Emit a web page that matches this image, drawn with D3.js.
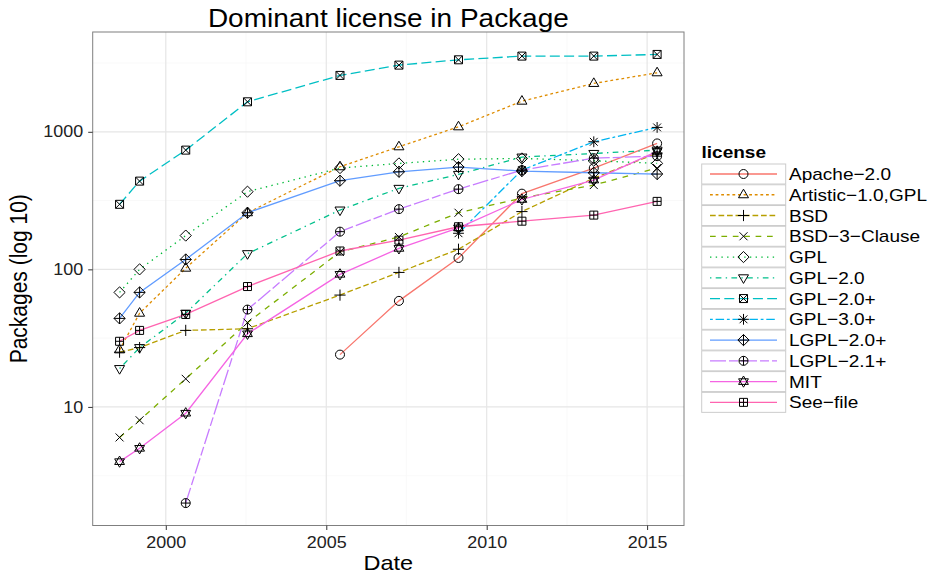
<!DOCTYPE html>
<html>
<head>
<meta charset="utf-8">
<script src="https://cdn.jsdelivr.net/npm/d3@7"></script>
<style>
body{margin:0;background:#fff}
svg{display:block}
text{font-family:"Liberation Sans",Arial,Helvetica,sans-serif}
</style>
</head>
<body>
<svg id="chart" width="935" height="576"></svg>
<script>
// ---------------- data ----------------
const releaseDates = ["1998-07-24","1999-03-09","2000-08-15","2002-07-19","2005-06-06",
                      "2007-04-08","2009-02-14","2011-02-06","2013-05-04","2015-04-25"];
const licenses = ["Apache-2.0","Artistic-1.0,GPL","BSD","BSD-3-Clause","GPL","GPL-2.0",
                  "GPL-2.0+","GPL-3.0+","LGPL-2.0+","LGPL-2.1+","MIT","See-file"];
const apache      = [null,null,null,null,24,59,121,355,545,823];
const artistic    = [26,48,102,258,557,778,1087,1670,2247,2685];
const bsd         = [25,27,36,37,65,95,140,263,460,700];
const bsd3        = [6,8,16,41,134,172,258,330,410,545];
const gpl         = [68,100,176,367,545,589,632,640,616,589];
const gpl20       = [19,27,48,130,270,388,490,655,696,736];
const gpl20plus   = [297,438,736,1652,2570,3053,3337,3550,3550,3651];
const gpl30plus   = [null,null,null,null,null,null,183,527,846,1076];
const lgpl20plus  = [44,68,118,258,441,512,554,518,504,493];
const lgpl21plus  = [null,null,2,51,188,274,383,527,643,665];
const mit         = [4,5,9,34,92,142,200,322,446,720];
const seeFile     = [30,36,47,75,136,163,204,224,248,312];
const seriesValues = [apache,artistic,bsd,bsd3,gpl,gpl20,gpl20plus,gpl30plus,lgpl20plus,lgpl21plus,mit,seeFile];
const yTickValues = [10,100,1000];
const xTickYears  = [2000,2005,2010,2015];
const titleText = "Dominant license in Package";
const xTitle = "Date";
const yTitle = "Packages (log 10)";
const legendTitle = "license";

// ---------------- styles ----------------
const colors = ["#F8766D","#DE8C00","#B79F00","#7CAE00","#00BA38","#00C08B",
                "#00BFC4","#00B4F0","#619CFF","#C77CFF","#F564E3","#FF64B0"];
const dashes = [null,"2.8,2.8","5.7,2.8","5.7,5.7","1.4,4.3","1.4,4.3,5.7,4.3",
                "10,4.3","2.8,2.8,8.5,2.8",null,"16,3,9,3",null,null];
const shapes = ["circle","triUp","plus","cross","diamond","triDown","squareX",
                "asterisk","diamondPlus","circlePlus","david","squarePlus"];

const SX = 1.12; // horizontal text stretch
const svg = d3.select("#chart");
const panel = {left:92.7,right:684,top:32,bottom:525.5};

const parse = d3.timeParse("%Y-%m-%d");
const dates = releaseDates.map(parse);

// scales with 5% expansion (as in ggplot)
const allVals = seriesValues.flat().filter(v=>v!=null);
const lmin = Math.log10(d3.min(allVals)), lmax = Math.log10(d3.max(allVals));
const lpad = (lmax-lmin)*0.05;
const y = d3.scaleLog().domain([10**(lmin-lpad),10**(lmax+lpad)]).range([panel.bottom,panel.top]);
const tmin = +d3.min(dates), tmax = +d3.max(dates), tpad = (tmax-tmin)*0.05;
const x = d3.scaleTime().domain([new Date(tmin-tpad),new Date(tmax+tpad)]).range([panel.left,panel.right]);

// ---------------- grid ----------------
const grid = svg.append("g");
const minorY = [0.5,1.5,2.5,3.5].map(e=>10**e).filter(v=>v>y.domain()[0]&&v<y.domain()[1]);
const minorX = [2002.5,2007.5,2012.5].map(yr=>new Date(Math.floor(yr),6,2));
grid.selectAll(".my").data(minorY).join("line")
  .attr("x1",panel.left).attr("x2",panel.right).attr("y1",d=>y(d)).attr("y2",d=>y(d))
  .attr("stroke","#f7f7f7").attr("stroke-width",0.8);
grid.selectAll(".mx").data(minorX).join("line")
  .attr("y1",panel.top).attr("y2",panel.bottom).attr("x1",d=>x(d)).attr("x2",d=>x(d))
  .attr("stroke","#f7f7f7").attr("stroke-width",0.8);
grid.selectAll(".gy").data(yTickValues).join("line")
  .attr("x1",panel.left).attr("x2",panel.right).attr("y1",d=>y(d)).attr("y2",d=>y(d))
  .attr("stroke","#e6e6e6").attr("stroke-width",1.2);
grid.selectAll(".gx").data(xTickYears).join("line")
  .attr("y1",panel.top).attr("y2",panel.bottom)
  .attr("x1",d=>x(new Date(d,0,1))).attr("x2",d=>x(new Date(d,0,1)))
  .attr("stroke","#e6e6e6").attr("stroke-width",1.2);

// ---------------- lines ----------------
const line = d3.line().defined(d=>d.v!=null).x(d=>x(d.t)).y(d=>y(d.v));
const series = licenses.map((name,i)=>({name,i,pts:dates.map((t,j)=>({t,v:seriesValues[i][j]}))}));
svg.append("g").selectAll("path").data(series).join("path")
  .attr("d",s=>line(s.pts)).attr("fill","none")
  .attr("stroke",s=>colors[s.i]).attr("stroke-width",1.3)
  .attr("stroke-dasharray",s=>dashes[s.i]);

// ---------------- markers ----------------
function shapePath(type){
  const circ=r=>`M${r},0A${r},${r} 0 1,1 ${-r},0A${r},${r} 0 1,1 ${r},0Z`;
  const plus=r=>`M${-r},0H${r}M0,${-r}V${r}`;
  const cross=r=>`M${-r},${-r}L${r},${r}M${-r},${r}L${r},${-r}`;
  const sq=r=>`M${-r},${-r}H${r}V${r}H${-r}Z`;
  const dia=r=>`M0,${-r}L${r},0L0,${r}L${-r},0Z`;
  switch(type){
    case "circle": return circ(4.5);
    case "triUp": return "M0,-5.6L5,3L-5,3Z";
    case "plus": return plus(5.6);
    case "cross": return cross(4);
    case "diamond": return dia(5.6);
    case "triDown": return "M0,5.6L5,-3L-5,-3Z";
    case "squareX": return sq(4)+cross(4);
    case "asterisk": return plus(5.4)+cross(3.9);
    case "diamondPlus": return dia(5.6)+plus(5.6);
    case "circlePlus": return circ(4.5)+plus(4.5);
    case "david": return "M0,-5.6L4.9,2.8L-4.9,2.8Z M0,5.6L4.9,-2.8L-4.9,-2.8Z";
    case "squarePlus": return sq(4)+plus(4);
  }
}
const pg = svg.append("g");
series.forEach(s=>{
  pg.append("g").selectAll("path").data(s.pts.filter(d=>d.v!=null)).join("path")
    .attr("transform",d=>`translate(${x(d.t)},${y(d.v)})`)
    .attr("d",shapePath(shapes[s.i]))
    .attr("fill","none").attr("stroke","#000").attr("stroke-width",1);
});

// ---------------- panel border ----------------
svg.append("rect").attr("x",panel.left).attr("y",panel.top)
  .attr("width",panel.right-panel.left).attr("height",panel.bottom-panel.top)
  .attr("fill","none").attr("stroke","#7f7f7f").attr("stroke-width",1);

// ---------------- axes ----------------
const yAxis = svg.append("g").attr("transform",`translate(${panel.left},0)`)
  .call(d3.axisLeft(y).tickValues(yTickValues).tickFormat(d3.format("d")).tickSize(4.5).tickPadding(4));
const xAxis = svg.append("g").attr("transform",`translate(0,${panel.bottom})`)
  .call(d3.axisBottom(x).tickValues(xTickYears.map(yr=>new Date(yr,0,1))).tickFormat(d3.timeFormat("%Y")).tickSize(4.5).tickPadding(7));
[yAxis,xAxis].forEach(a=>{
  a.select(".domain").remove();
  a.selectAll(".tick line").attr("stroke","#333");
  a.selectAll(".tick text").attr("fill","#222").style("font-size","16px")
    .attr("font-family","Liberation Sans, Arial, sans-serif")
    .attr("transform",`scale(${SX},1)`);
});

// ---------------- texts ----------------
function stretchedText(px,py,str,size,anchor,weight,rot){
  const g = svg.append("g").attr("transform",`translate(${px},${py}) scale(${SX},1)`+(rot?` rotate(${rot})`:""));
  return g.append("text").text(str).attr("text-anchor",anchor)
    .style("font-size",size+"px").style("font-weight",weight||"normal").attr("fill","#000");
}
const cx = (panel.left+panel.right)/2;
stretchedText(cx,27,titleText,25,"middle");
stretchedText(cx,570,xTitle,21,"middle");
stretchedText(27,(panel.top+panel.bottom)/2,yTitle,21,"middle",null,-90);

// ---------------- legend ----------------
const lg = svg.append("g");
stretchedText(701.5,158,legendTitle,17,"start","bold");
const rowH = 20.76, row0 = 174;
series.forEach((s,i)=>{
  const cy = row0 + i*rowH;
  lg.append("rect").attr("x",701.7).attr("y",cy-10).attr("width",84).attr("height",20)
    .attr("fill","#fff").attr("stroke","#cccccc").attr("stroke-width",1);
  lg.append("line").attr("x1",710).attr("x2",777).attr("y1",cy).attr("y2",cy)
    .attr("stroke",colors[i]).attr("stroke-width",1.3).attr("stroke-dasharray",dashes[i]);
  lg.append("path").attr("transform",`translate(743.5,${cy})`).attr("d",shapePath(shapes[i]))
    .attr("fill","none").attr("stroke","#000").attr("stroke-width",1);
  stretchedText(789,cy+6,s.name.replace(/-/g,"\u2212"),17,"start");
});
</script>
</body>
</html>
